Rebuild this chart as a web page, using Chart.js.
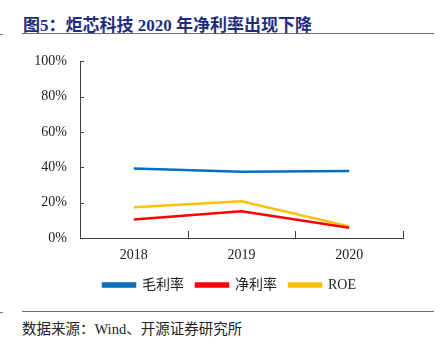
<!DOCTYPE html>
<html>
<head>
<meta charset="utf-8">
<script src="https://cdn.jsdelivr.net/npm/chart.js@4.4.0/dist/chart.umd.min.js"></script>
<style>
  body { margin: 0; background: #fff; }
  #page { position: relative; width: 440px; height: 351px; overflow: hidden; background: #fff; }
  .title { position: absolute; left: 23px; top: 11px; font: bold 17px "Liberation Serif", "Noto Sans CJK SC", serif; color: #1f2e7a; white-space: nowrap; }
  .rule { position: absolute; left: 22px; width: 412px; height: 0; border-top: 1.5px solid #6b6b6b; }
  .stub { position: absolute; left: 0; width: 3px; height: 0; border-top: 1px solid #777; }
  .source { position: absolute; left: 22px; top: 317px; font: 14.5px "Liberation Serif", "Noto Sans CJK SC", serif; color: #222; white-space: nowrap; }
  #wrap { position: absolute; left: 0; top: 40px; width: 440px; height: 265px; }
</style>
</head>
<body>
<div id="page">
  <div class="title">图5：炬芯科技 2020 年净利率出现下降</div>
  <div class="stub" style="top:34px"></div>
  <div class="rule" style="top:33px"></div>
  <div id="wrap"><canvas id="grafico"></canvas></div>
  <div class="stub" style="top:312px"></div>
  <div class="rule" style="top:311px"></div>
  <div class="source">数据来源：Wind、开源证券研究所</div>
</div>
<script>
// Datos
const anios = ['2018', '2019', '2020'];
const margenBruto = [39.3, 37.5, 38.0];
const margenNeto = [10.5, 15.2, 5.8];
const roe = [17.4, 20.8, 6.6];
const ticksY = [0, 20, 40, 60, 80, 100];

const serif = '"Liberation Serif", "Noto Sans CJK SC", serif';

// Marcas cortas hacia dentro de los ejes
const marcasInternas = {
    id: 'marcasInternas',
    afterDraw(chart) {
        const { ctx, chartArea, scales } = chart;
        ctx.save();
        ctx.strokeStyle = '#404040';
        ctx.lineWidth = 1;
        ctx.beginPath();
        ticksY.forEach(function(v) {
            const y = Math.round(scales.y.getPixelForValue(v)) + 0.5;
            ctx.moveTo(chartArea.left, y);
            ctx.lineTo(chartArea.left + 4, y);
        });
        const paso = (chartArea.right - chartArea.left) / anios.length;
        for (let i = 1; i <= anios.length; i++) {
            const x = Math.round(chartArea.left + paso * i) + 0.5;
            ctx.moveTo(x, chartArea.bottom);
            ctx.lineTo(x, chartArea.bottom - 7);
        }
        ctx.stroke();
        ctx.restore();
    }
};

// Centrar la leyenda sobre todo el ancho, no solo hasta el padding derecho
const moverLeyenda = {
    id: 'moverLeyenda',
    afterLayout(chart) {
        chart.legend.left += 28;
        chart.legend.right += 28;
    }
};

document.addEventListener('DOMContentLoaded', function() {
    const ctx = document.getElementById('grafico').getContext('2d');
    new Chart(ctx, {
        type: 'line',
        data: {
            labels: anios,
            datasets: [
                { label: '毛利率', data: margenBruto, borderColor: '#0070c0', backgroundColor: '#0070c0' },
                { label: '净利率', data: margenNeto, borderColor: '#ff0000', backgroundColor: '#ff0000' },
                { label: 'ROE', data: roe, borderColor: '#ffc000', backgroundColor: '#ffc000' }
            ]
        },
        options: {
            responsive: true,
            maintainAspectRatio: false,
            animation: false,
            devicePixelRatio: 1,
            layout: { padding: { top: 17, right: 37, bottom: 3, left: 0 } },
            elements: {
                line: { borderWidth: 2.5, tension: 0 },
                point: { radius: 0, hoverRadius: 0 }
            },
            scales: {
                x: {
                    offset: true,
                    grid: { display: false, drawTicks: false },
                    border: { display: true, color: '#404040', width: 1 },
                    ticks: { color: '#222', font: { family: serif, size: 14 }, padding: 9 },
                    afterFit: function(scale) { scale.height = 28; }
                },
                y: {
                    min: 0,
                    max: 100,
                    grid: { display: false, drawTicks: false },
                    border: { display: true, color: '#404040', width: 1 },
                    ticks: {
                        stepSize: 20,
                        color: '#222',
                        font: { family: serif, size: 14 },
                        padding: 13,
                        callback: function(v) { return v + '%'; }
                    },
                    afterFit: function(scale) { scale.width = 80; }
                }
            },
            plugins: {
                legend: {
                    position: 'bottom',
                    labels: {
                        boxWidth: 32,
                        boxHeight: 3,
                        padding: 12,
                        color: '#222',
                        font: { family: serif, size: 14 }
                    }
                },
                tooltip: { enabled: false }
            }
        },
        plugins: [marcasInternas, moverLeyenda]
    });
});
</script>
</body>
</html>
